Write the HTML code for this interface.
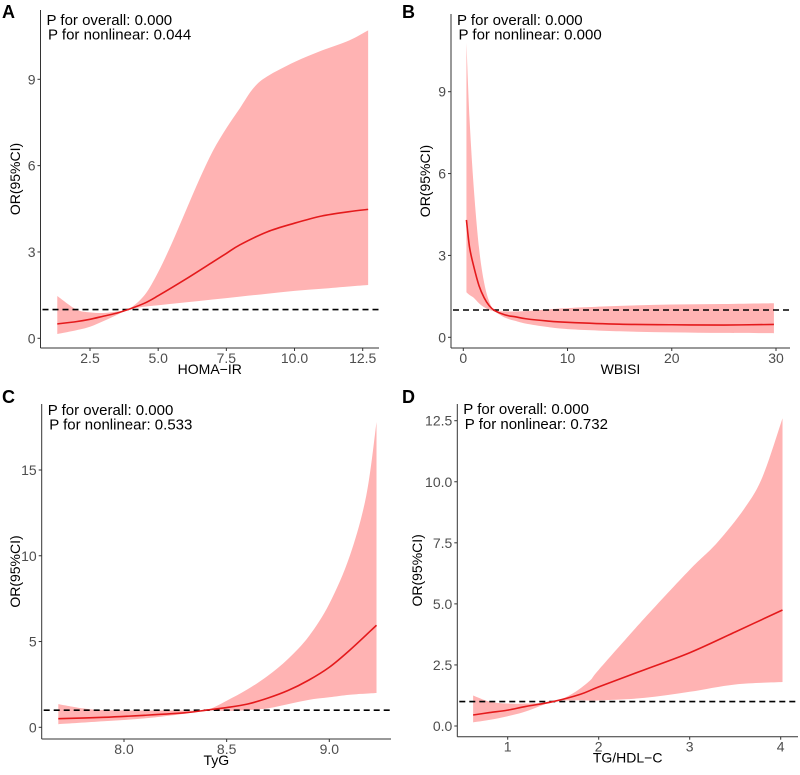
<!DOCTYPE html>
<html><head><meta charset="utf-8"><style>
body{margin:0;background:#fff}
svg text{font-family:"Liberation Sans",sans-serif}
</style></head><body>
<svg id="chart" width="800" height="770" xmlns="http://www.w3.org/2000/svg"></svg>
<script>
// Panel A data (HOMA-IR)
const aEstX=[1.3,2,2.5,3,3.5,3.9,4.5,5,6,7,7.5,8,9,10,11,12,12.7];
const aEstY=[0.5,0.58,0.66,0.77,0.88,1.0,1.22,1.48,2.05,2.65,2.95,3.25,3.7,4.0,4.25,4.4,4.48];
const aHiX=[1.3,2,2.5,3,3.5,3.9,4.5,5,5.5,6,6.5,7,7.5,8,8.5,9,10,11,12,12.7];
const aHiY=[1.47,1.0,0.9,0.88,0.93,1.0,1.5,2.3,3.3,4.4,5.5,6.5,7.3,8.0,8.7,9.1,9.6,10.0,10.35,10.7];
const aLoX=[1.3,2,2.5,3,3.5,3.9,4.5,5,6,7,8,9,10,11,12,12.7];
const aLoY=[0.15,0.28,0.4,0.6,0.82,1.0,1.1,1.15,1.25,1.35,1.45,1.55,1.65,1.72,1.8,1.85];
const aXTicks=[2.5,5.0,7.5,10.0,12.5];
const aXTickLabels=["2.5","5.0","7.5","10.0","12.5"];
const aYTicks=[0,3,6,9];
const aYTickLabels=["0","3","6","9"];
// Panel B data (WBISI)
const bEstX=[0.3,0.6,1,1.5,2,2.5,3,4,5,6,8,10,15,20,25,29.8];
const bEstY=[4.3,3.3,2.6,1.9,1.45,1.15,0.98,0.82,0.75,0.68,0.6,0.55,0.48,0.46,0.45,0.47];
const bHiX=[0.3,0.6,1,1.5,2,2.5,3,4,6,8,10,15,20,25,29.8];
const bHiY=[10.8,8,5.5,3.3,2.0,1.3,1.0,0.95,0.96,1.02,1.07,1.15,1.2,1.22,1.25];
const bLoX=[0.3,0.6,1,1.5,2,2.5,3,4,5,6,8,10,15,20,25,29.8];
const bLoY=[1.65,1.55,1.45,1.25,1.1,1.0,0.94,0.72,0.6,0.5,0.38,0.3,0.22,0.18,0.16,0.15];
const bXTicks=[0,10,20,30];
const bXTickLabels=["0","10","20","30"];
const bYTicks=[0,3,6,9];
const bYTickLabels=["0","3","6","9"];
// Panel C data (TyG)
const cEstX=[7.68,7.9,8.1,8.3,8.4,8.5,8.6,8.7,8.8,8.9,9.0,9.1,9.23];
const cEstY=[0.5,0.58,0.7,0.85,1.0,1.15,1.35,1.7,2.15,2.75,3.5,4.5,5.95];
const cHiX=[7.68,7.8,7.9,8.1,8.3,8.4,8.5,8.6,8.7,8.8,8.9,9.0,9.1,9.18,9.23];
const cHiY=[1.35,1.1,1.0,0.98,0.98,1.0,1.55,2.2,3.0,4.0,5.3,7.2,10.0,13.5,17.8];
const cLoX=[7.68,7.9,8.1,8.3,8.4,8.5,8.6,8.7,8.8,8.9,9.0,9.1,9.23];
const cLoY=[0.18,0.35,0.52,0.8,1.0,0.95,1.0,1.1,1.35,1.6,1.75,1.9,2.0];
const cXTicks=[8.0,8.5,9.0];
const cXTickLabels=["8.0","8.5","9.0"];
const cYTicks=[0,5,10,15];
const cYTickLabels=["0","5","10","15"];
// Panel D data (TG/HDL-C)
const dEstX=[0.62,0.8,1.0,1.2,1.5,1.8,2.0,2.5,3.0,3.5,4.02];
const dEstY=[0.45,0.55,0.65,0.8,1.0,1.3,1.6,2.3,3.0,3.85,4.75];
const dHiX=[0.62,0.8,1.0,1.2,1.5,1.7,1.9,2.0,2.5,3.0,3.3,3.6,3.8,4.02];
const dHiY=[1.25,1.0,0.92,0.92,1.0,1.3,1.85,2.3,4.4,6.4,7.5,8.9,10.2,12.6];
const dLoX=[0.62,0.8,1.0,1.2,1.5,1.7,2.0,2.5,3.0,3.5,4.02];
const dLoY=[0.15,0.25,0.4,0.6,1.0,1.05,1.05,1.15,1.4,1.7,1.8];
const dXTicks=[1,2,3,4];
const dXTickLabels=["1","2","3","4"];
const dYTicks=[0,2.5,5,7.5,10,12.5];
const dYTickLabels=["0.0","2.5","5.0","7.5","10.0","12.5"];

const NS="http://www.w3.org/2000/svg";
const svg=document.getElementById('chart');
function mk(tag,attrs,parent){const e=document.createElementNS(NS,tag);for(const k in attrs)e.setAttribute(k,attrs[k]);(parent||svg).appendChild(e);return e;}

const panels=[
 {id:'a',letter:'A',xt:'HOMA\u2212IR',p1:'P for overall: 0.000',p2:'P for nonlinear: 0.044',
  ax:40.5,right:379,axy:348,x0v:2.5,x0p:90,x1v:12.5,x1p:362.7,y0v:0,y0p:338.3,y1v:9,y1p:79.3,top:10,ox:0,oy:0,
  est:[aEstX,aEstY],hi:[aHiX,aHiY],lo:[aLoX,aLoY],xt_:aXTicks,xl:aXTickLabels,yt:aYTicks,yl:aYTickLabels},
 {id:'b',letter:'B',xt:'WBISI',p1:'P for overall: 0.000',p2:'P for nonlinear: 0.000',
  ax:451,right:790,axy:348,x0v:0,x0p:463.3,x1v:30,x1p:776,y0v:0,y0p:337.3,y1v:9,y1p:91.7,top:14,ox:400,oy:0,
  est:[bEstX,bEstY],hi:[bHiX,bHiY],lo:[bLoX,bLoY],xt_:bXTicks,xl:bXTickLabels,yt:bYTicks,yl:bYTickLabels},
 {id:'c',letter:'C',xt:'TyG',p1:'P for overall: 0.000',p2:'P for nonlinear: 0.533',
  ax:41.7,right:391,axy:739,x0v:8.0,x0p:124,x1v:9.0,x1p:329.3,y0v:0,y0p:727.3,y1v:15,y1p:470,top:404,ox:0,oy:385,
  est:[cEstX,cEstY],hi:[cHiX,cHiY],lo:[cLoX,cLoY],xt_:cXTicks,xl:cXTickLabels,yt:cYTicks,yl:cYTickLabels},
 {id:'d',letter:'D',xt:'TG/HDL\u2212C',p1:'P for overall: 0.000',p2:'P for nonlinear: 0.732',
  ax:457.3,right:798,axy:736.7,x0v:1,x0p:507.7,x1v:4,x1p:780.7,y0v:0,y0p:726,y1v:12.5,y1p:420.7,top:404,ox:400,oy:385,
  est:[dEstX,dEstY],hi:[dHiX,dHiY],lo:[dLoX,dLoY],xt_:dXTicks,xl:dXTickLabels,yt:dYTicks,yl:dYTickLabels}
];

function catmull(pts){
  let d='M'+pts[0][0].toFixed(2)+','+pts[0][1].toFixed(2);
  for(let i=0;i<pts.length-1;i++){
    const p0=pts[i-1]||pts[i],p1=pts[i],p2=pts[i+1],p3=pts[i+2]||p2;
    const c1=[p1[0]+(p2[0]-p0[0])/6,p1[1]+(p2[1]-p0[1])/6];
    const c2=[p2[0]-(p3[0]-p1[0])/6,p2[1]-(p3[1]-p1[1])/6];
    d+=' C'+c1[0].toFixed(2)+','+c1[1].toFixed(2)+' '+c2[0].toFixed(2)+','+c2[1].toFixed(2)+' '+p2[0].toFixed(2)+','+p2[1].toFixed(2);
  }
  return d;
}

panels.forEach(P=>{
  const sx=v=>P.x0p+(v-P.x0v)*(P.x1p-P.x0p)/(P.x1v-P.x0v);
  const sy=v=>P.y0p+(v-P.y0v)*(P.y1p-P.y0p)/(P.y1v-P.y0v);
  const g=mk('g',{});
  
  
  const hiPts=P.hi[0].map((x,i)=>[sx(x),sy(P.hi[1][i])]);
  const loPts=P.lo[0].map((x,i)=>[sx(x),sy(P.lo[1][i])]).reverse();
  let d=catmull(hiPts)+' L'+catmull(loPts).slice(1)+' Z';
  const rib=mk('path',{d:d,fill:'#ffb3b3',stroke:'none'},g);
  
  
  const ref=mk('line',{x1:P.ax+2,x2:P.right,y1:sy(1),y2:sy(1),stroke:'#000','stroke-width':1.6,'stroke-dasharray':'6,4'},g);
  
  
  const estPts=P.est[0].map((x,i)=>[sx(x),sy(P.est[1][i])]);
  const est=mk('path',{d:catmull(estPts),fill:'none',stroke:'#e41a1c','stroke-width':1.6},g);
  
  
  const ya=mk('line',{x1:P.ax,x2:P.ax,y1:P.top,y2:P.axy,stroke:'#333','stroke-width':1},g);
  
  
  const xa=mk('line',{x1:P.ax,x2:P.right,y1:P.axy,y2:P.axy,stroke:'#333','stroke-width':1},g);
  
  
  P.xt_.forEach((v,i)=>{
    const x=sx(v);
    mk('line',{x1:x,x2:x,y1:P.axy,y2:P.axy+3,stroke:'#333'},g);
    const t=mk('text',{x:x,y:P.axy+15,'text-anchor':'middle','font-size':14,fill:'#4d4d4d'},g);
    t.textContent=P.xl[i];
    
    
  });
  P.yt.forEach((v,i)=>{
    const y=sy(v);
    mk('line',{x1:P.ax-3,x2:P.ax,y1:y,y2:y,stroke:'#333'},g);
    const t=mk('text',{x:P.ax-5,y:y+5,'text-anchor':'end','font-size':14,fill:'#4d4d4d'},g);
    t.textContent=P.yl[i];
    
    
  });
  const xt=mk('text',{x:(P.ax+P.right)/2,y:P.axy+26,'text-anchor':'middle','font-size':14,fill:'#000'},g);
  xt.textContent=P.xt;
  
  
  const ym=(P.top+P.axy)/2;
  const ytx=P.ox+(P.id==='b'?30:(P.id==='d'?22:20));
  const yt=mk('text',{x:ytx,y:ym,'text-anchor':'middle','font-size':14,fill:'#000',transform:'rotate(-90 '+ytx+' '+ym+')'},g);
  yt.textContent='OR(95%CI)';
  
  
  const lt=mk('text',{x:P.ox+2,y:P.oy+18,'font-size':18,'font-weight':'bold',fill:'#000'},g);
  lt.textContent=P.letter;
  
  
  const a1=mk('text',{x:P.ax+6,y:P.oy+(P.id==='c'||P.id==='a'||P.id==='b'?25:29)+(P.id==='c'?5:0),'font-size':15,fill:'#000'},g);
  a1.textContent=P.p1;
  
  
  const a2=mk('text',{x:P.ax+7.5,y:P.oy+(P.id==='c'||P.id==='a'||P.id==='b'?39.5:44)+(P.id==='c'?5:0),'font-size':15,fill:'#000'},g);
  a2.textContent=P.p2;
  
  
});
</script>
</body></html>
